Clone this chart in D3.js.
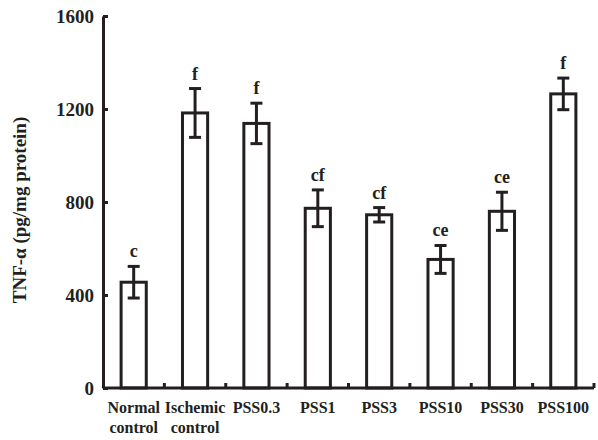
<!DOCTYPE html>
<html>
<head>
<meta charset="utf-8">
<script src="https://cdn.jsdelivr.net/npm/d3@7"></script>
<style>
  body { margin: 0; background: #fff; }
  text { font-family: "Liberation Serif", "Times New Roman", serif; font-weight: bold; fill: #231f20; }
</style>
</head>
<body>
<svg width="598" height="440"></svg>
<script>
// data
const groups = ["Normal control", "Ischemic control", "PSS0.3", "PSS1", "PSS3", "PSS10", "PSS30", "PSS100"];
const means = [455, 1183, 1138, 773, 745, 553, 760, 1265];
const errs = [68, 105, 87, 79, 31, 60, 82, 68];
const marks = ["c", "f", "f", "cf", "cf", "ce", "ce", "f"];
const yTicks = [0, 400, 800, 1200, 1600];

const margin = {top: 16, right: 4, bottom: 52, left: 103};
const width = 598 - margin.left - margin.right;
const height = 440 - margin.top - margin.bottom;
const ink = "#231f20";

const svg = d3.select("svg");
const chart = svg.append("g")
    .attr("transform", "translate(" + margin.left + "," + margin.top + ")");

const x = d3.scaleBand().domain(groups).range([0, width]).paddingInner(0.59).paddingOuter(0.295);
const y = d3.scaleLinear().domain([0, 1600]).range([height, 0]);

// bars
chart.selectAll(".bar").data(groups).enter()
    .append("rect")
    .attr("x", d => x(d))
    .attr("y", (d, i) => y(means[i]))
    .attr("width", x.bandwidth())
    .attr("height", (d, i) => height - y(means[i]))
    .attr("fill", "#fff")
    .attr("stroke", ink)
    .attr("stroke-width", 3);

// error bars
const eb = chart.selectAll(".err").data(groups).enter().append("g");
const cx = d => x(d) + x.bandwidth() / 2;
eb.append("line")
    .attr("x1", cx).attr("x2", cx)
    .attr("y1", (d, i) => y(means[i] + errs[i]))
    .attr("y2", (d, i) => y(means[i] - errs[i]))
    .attr("stroke", ink).attr("stroke-width", 3);
[1, -1].forEach(s => {
    eb.append("line")
        .attr("x1", d => cx(d) - 6).attr("x2", d => cx(d) + 6)
        .attr("y1", (d, i) => y(means[i] + s * errs[i]))
        .attr("y2", (d, i) => y(means[i] + s * errs[i]))
        .attr("stroke", ink).attr("stroke-width", 3);
});
eb.append("text")
    .attr("x", cx)
    .attr("y", (d, i) => y(means[i] + errs[i]) - 9)
    .attr("text-anchor", "middle")
    .style("font-size", "18px")
    .text((d, i) => marks[i]);

// y axis
const yAxis = chart.append("g")
    .call(d3.axisLeft(y).tickValues(yTicks).tickFormat(d3.format("d"))
        .tickSize(-5).tickPadding(9).tickSizeOuter(0));
yAxis.select(".domain").attr("stroke", ink).attr("stroke-width", 3);
yAxis.selectAll(".tick line").attr("stroke", ink).attr("stroke-width", 3);
yAxis.selectAll(".tick text").style("font-size", "19px").attr("fill", ink)
    .style("font-family", "'Liberation Serif', serif").style("font-weight", "bold");

// x axis, ticks on band boundaries
const step = x.step();
const bounds = d3.range(1, groups.length + 1).map(i => i * step);
const xAxis = chart.append("g").attr("transform", "translate(0," + height + ")");
xAxis.append("line").attr("x1", 0).attr("x2", width)
    .attr("stroke", ink).attr("stroke-width", 3);
xAxis.selectAll(".xt").data(bounds).enter().append("line")
    .attr("x1", d => d).attr("x2", d => d)
    .attr("y1", 0).attr("y2", -5)
    .attr("stroke", ink).attr("stroke-width", 3);

const xl = xAxis.selectAll(".xl").data(groups).enter().append("text")
    .attr("text-anchor", "middle")
    .attr("transform", d => "translate(" + cx(d) + ",25)")
    .style("font-size", "16px");
xl.each(function(d) {
    const parts = d.split(" ");
    d3.select(this).selectAll("tspan").data(parts).enter().append("tspan")
        .attr("x", 0).attr("dy", (p, j) => j ? "1.25em" : 0)
        .text(p => p);
});

// y label
svg.append("text")
    .attr("transform", "translate(26," + (margin.top + height / 2 + 8) + ") rotate(-90)")
    .attr("text-anchor", "middle")
    .style("font-size", "19px")
    .text("TNF-α (pg/mg protein)");
</script>
</body>
</html>
